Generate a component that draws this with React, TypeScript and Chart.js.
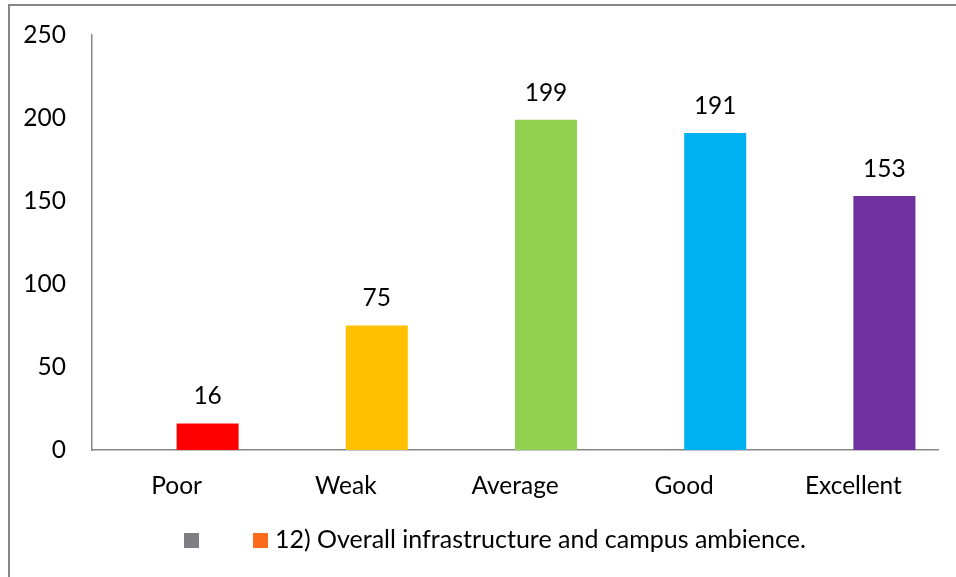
import React, { useEffect, useRef } from "react";
import { Chart, registerables } from "chart.js";

Chart.register(...registerables);

const categories = ["Poor", "Weak", "Average", "Good", "Excellent"];
const values = [16, 75, 199, 191, 153];
const emptySeries = [null, null, null, null, null];
const barColors = ["#FF0000", "#FFC000", "#92D050", "#00B0F0", "#7030A0"];
const seriesName = "12) Overall infrastructure and campus ambience.";
const legendColors = ["#7F7F83", "#FC6A1C"];
const yMax = 250;
const yStep = 50;

const FONT = "Lato";
const FSIZE = 24.5;
const LEGEND_FSIZE = 25;

export default function App() {
  const ref = useRef<HTMLCanvasElement | null>(null);

  useEffect(() => {
    if (!ref.current) return;
    const framePlugin = {
      id: "frame",
      beforeDraw(chart: any) {
        const ctx = chart.ctx;
        ctx.save();
        ctx.fillStyle = "#ffffff";
        ctx.fillRect(0, 0, chart.width, chart.height);
        ctx.fillStyle = "#878787";
        ctx.fillRect(8, 4, chart.width - 8, 2);
        ctx.fillRect(8, 4, 2, chart.height - 4);
        ctx.restore();
      },
    };
    const labelPlugin = {
      id: "valueLabels",
      afterDatasetsDraw(chart: any) {
        const ctx = chart.ctx;
        const meta = chart.getDatasetMeta(1);
        ctx.save();
        ctx.font = `${FSIZE}px ${FONT}`;
        ctx.fillStyle = "#000";
        ctx.textAlign = "center";
        ctx.textBaseline = "middle";
        meta.data.forEach((bar: any, i: number) => {
          ctx.fillText(String(values[i]), bar.x, bar.y - 27);
        });
        ctx.restore();
      },
    };
    const legendPlugin = {
      id: "customLegend",
      afterDraw(chart: any) {
        const ctx = chart.ctx;
        ctx.save();
        ctx.fillStyle = legendColors[0];
        ctx.fillRect(184, 533, 15, 15);
        ctx.fillStyle = legendColors[1];
        ctx.fillRect(253, 533, 15, 15);
        ctx.font = `${LEGEND_FSIZE}px ${FONT}`;
        ctx.fillStyle = "#000";
        ctx.textAlign = "left";
        ctx.textBaseline = "middle";
        ctx.fillText(seriesName, 275, 540);
        ctx.restore();
      },
    };

    const chart = new Chart(ref.current, {
      type: "bar",
      data: {
        labels: categories,
        datasets: [
          { label: "", data: emptySeries as any, backgroundColor: legendColors[0] },
          { label: seriesName, data: values, backgroundColor: barColors },
        ],
      },
      options: {
        animation: false,
        responsive: false,
        maintainAspectRatio: false,
        devicePixelRatio: 1,
        layout: { padding: { left: 0, top: 35, right: 18, bottom: 0 } },
        plugins: { legend: { display: false }, tooltip: { enabled: false } },
        datasets: { bar: { categoryPercentage: 0.733, barPercentage: 1 } },
        scales: {
          x: {
            grid: { display: false, drawTicks: false },
            border: { display: true, color: "#878787", width: 1.5 },
            ticks: { color: "#000", font: { family: FONT, size: FSIZE }, padding: 21 },
            afterFit: (s: any) => { s.height = 127; },
          },
          y: {
            min: 0,
            max: yMax,
            grid: { display: false, drawTicks: false },
            border: { display: true, color: "#878787", width: 1.5 },
            ticks: { stepSize: yStep, color: "#000", font: { family: FONT, size: FSIZE }, padding: 26 },
            afterFit: (s: any) => { s.width = 92; s.paddingTop = 0; s.paddingBottom = 0; },
          },
        },
      },
      plugins: [framePlugin, labelPlugin, legendPlugin],
    });
    return () => chart.destroy();
  }, []);

  return (
    <div style={{ position: "absolute", left: 0, top: 0, width: 956, height: 577, background: "#fff" }}>
      <canvas ref={ref} width={956} height={577} style={{ display: "block", width: 956, height: 577 }} />
    </div>
  );
}
